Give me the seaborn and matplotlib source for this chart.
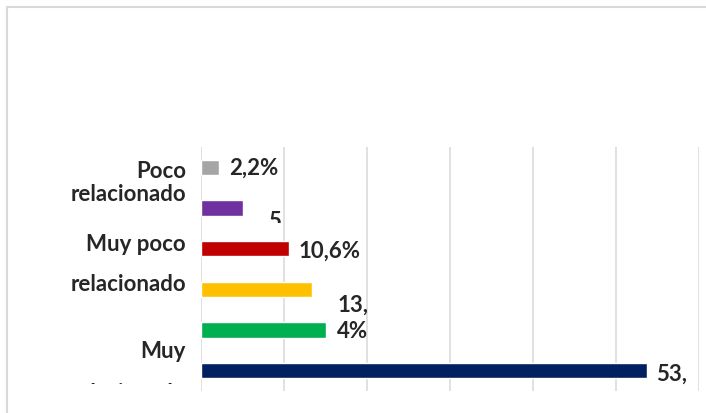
import matplotlib
matplotlib.use("Agg")
import matplotlib.pyplot as plt
import seaborn as sns
import pandas as pd
from matplotlib.patches import Rectangle
from matplotlib.transforms import Bbox, TransformedBbox

# datos (de arriba hacia abajo, como en la figura)
categorias = ["Poco relacionado", "Cat 2", "Muy poco relacionado", "Cat 4", "Cat 5", "Muy relacionado"]
porcentajes = [2.2, 5.1, 10.6, 13.4, 15.1, 53.7]
colores = ["#A5A5A5", "#7030A0", "#C00000", "#FFC000", "#00B050", "#002060"]
# etiquetas tal como salen (recortadas) en el original
etiquetas_valor = ["2,2%", "5", "10,6%", "13,\n4%", "", "53,"]
lineas_eje = ["Poco", "relacionado", "Muy poco", "relacionado", "Muy", "relacionado"]

W, H = 706, 414
sns.set_style("white")
plt.rcParams["font.family"] = ["Lato", "DejaVu Sans"]
FS = 16

fig = plt.figure(figsize=(W / 100, H / 100), dpi=100)
ax = fig.add_axes([201 / W, 1 - 392 / H, 498 / W, 244 / H])

df = pd.DataFrame({"cat": categorias, "pct": porcentajes})
sns.barplot(data=df, x="pct", y="cat", hue="cat", palette=colores,
            orient="h", width=0.37, legend=False, ax=ax, saturation=1)

ax.set_xlim(0, 60)
ax.set_ylim(5.5, -0.5)
ax.set_xticks(range(0, 61, 10))
ax.grid(axis="x", color="#D9D9D9", lw=1.1)
ax.set_axisbelow(True)
ax.tick_params(left=False, bottom=False, labelleft=False, labelbottom=False)
ax.set_xlabel("")
ax.set_ylabel("")
for s in ax.spines.values():
    s.set_visible(False)

# recorte en pixeles (origen arriba-izquierda) -> coords de figura
def clip_px(y_max):
    return TransformedBbox(Bbox.from_extents(0, 1 - y_max / H, 1, 1), fig.transFigure)

# etiquetas de valores
desp = [(10, 0), (25, 12), (10, 2), (25, 28), (10, 0), (9, 3)]
for i, (v, txt) in enumerate(zip(porcentajes, etiquetas_valor)):
    if not txt:
        continue
    dx, dy = desp[i]
    t = ax.annotate(txt, (v, i), xytext=(dx, -dy), textcoords="offset pixels",
                    ha="left", va="center", fontsize=FS, fontweight="bold",
                    multialignment="center", linespacing=1.3, annotation_clip=False)
    if i == 1:
        t.set_clip_on(True)
        t.set_clip_box(clip_px(224))

# etiquetas del eje (una linea por texto)
y_px = [172, 195, 245, 285, 352, 394]
for txt, yp in zip(lineas_eje, y_px):
    t = fig.text(186 / W, 1 - yp / H, txt, ha="right", va="center",
                 fontsize=FS, fontweight="bold")
    if yp > 385:
        t.set_clip_on(True)
        t.set_clip_box(clip_px(385))

# borde del grafico
fig.patches.append(Rectangle((7 / W, -0.1), 1.1, 1 - 8 / H + 0.1,
                             transform=fig.transFigure, fill=False,
                             edgecolor="#D9D9D9", lw=1.5))

fig.savefig("out.png", dpi=100)
